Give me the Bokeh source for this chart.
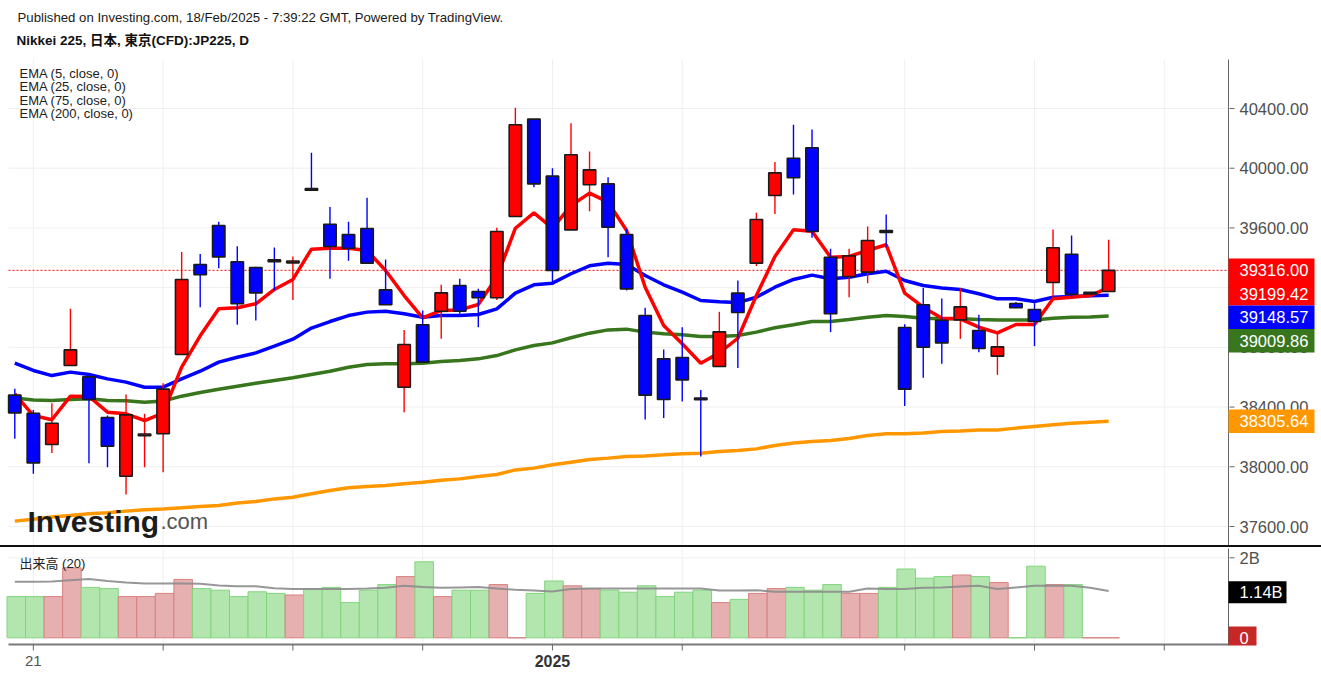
from bokeh.plotting import figure
from bokeh.models import ColumnDataSource, Range1d, Spacer
from bokeh.core.properties import value
from bokeh.layouts import column
from bokeh.embed import file_html
from bokeh.resources import INLINE

# ---------------- data ----------------
opens = [38480, 38359, 38149, 38678, 38602, 38330, 37937, 38208, 38221, 38752,
         39355, 39616, 39373, 39335, 39386, 39366, 39863, 39625, 39556, 39596,
         39185, 38533, 38951, 39042, 39214, 39174, 39132, 39677, 40329, 39947,
         39587, 39889, 39895, 39556, 39013, 38723, 38732, 38461, 38672, 39163,
         39364, 39817, 40067, 40137, 39404, 39275, 39304, 39582, 38933, 39085,
         38982, 38984, 38913, 38741, 39094, 39054, 39234, 39424, 39158, 39174]
highs = [38522, 38381, 38426, 39058, 38610, 38343, 38484, 38355, 38560, 39438,
         39426, 39641, 39478, 39340, 39469, 39409, 40103, 39741, 39641, 39802,
         39388, 38917, 39047, 39219, 39259, 39192, 39601, 40405, 40329, 40000,
         40302, 40112, 39940, 39594, 39065, 38786, 38935, 38515, 39038, 39248,
         39701, 40041, 40291, 40259, 39460, 39460, 39609, 39690, 38955, 39197,
         39127, 39197, 39018, 38891, 39103, 39096, 39589, 39549, 39168, 39520]
lows = [38187, 37953, 38093, 38678, 38024, 37997, 37814, 37997, 37964, 38752,
        39069, 39330, 38951, 38980, 39181, 39118, 39851, 39259, 39380, 39364,
        39085, 38366, 38701, 38857, 39025, 38935, 39118, 39677, 39873, 39237,
        39587, 39712, 39404, 39181, 38317, 38326, 38437, 38069, 38672, 38661,
        39344, 39694, 39824, 39534, 38902, 39136, 39230, 39471, 38408, 38596,
        38690, 38857, 38768, 38616, 39065, 38808, 39136, 39136, 39156, 39174]
closes = [38361, 38026, 38292, 38783, 38451, 38138, 38348, 38220, 38520, 39255,
          39286, 39406, 39092, 39165, 39374, 39378, 39852, 39476, 39464, 39364,
          39085, 38819, 38701, 39165, 39042, 39132, 39576, 40291, 39895, 39315,
          40090, 39989, 39605, 39192, 38480, 38451, 38582, 38449, 38904, 39033,
          39656, 39969, 39936, 39576, 39025, 39413, 39516, 39570, 38520, 38801,
          38830, 39071, 38792, 38803, 39065, 38973, 39467, 39156, 39168, 39316.00]

ema5 = [38489, 38343, 38315, 38473, 38471, 38366, 38355, 38310, 38359, 38667,
        38877, 39058, 39065, 39092, 39188, 39255, 39458, 39464, 39464, 39449,
        39315, 39147, 38998, 39047, 39051, 39087, 39270, 39598, 39701, 39598,
        39750, 39833, 39773, 39583, 39203, 38946, 38824, 38694, 38763, 38861,
        39147, 39409, 39587, 39578, 39404, 39409, 39449, 39487, 39163, 39069,
        38995, 38991, 38935, 38897, 38953, 38953, 39125, 39136, 39147, 39199.42]
ema25 = [38694, 38645, 38611, 38634, 38618, 38589, 38567, 38533, 38533, 38589,
         38640, 38701, 38734, 38763, 38808, 38855, 38929, 38973, 39013, 39036,
         39042, 39025, 39002, 39013, 39013, 39020, 39058, 39163, 39219, 39230,
         39293, 39346, 39364, 39355, 39281, 39219, 39170, 39114, 39105, 39100,
         39136, 39203, 39255, 39284, 39259, 39270, 39293, 39310, 39248, 39214,
         39197, 39188, 39159, 39125, 39125, 39107, 39136, 39141, 39145, 39148.57]
ema75 = [38460, 38448, 38444, 38451, 38455, 38444, 38442, 38433, 38440, 38473,
         38498, 38520, 38540, 38560, 38578, 38596, 38618, 38640, 38667, 38685,
         38690, 38690, 38694, 38705, 38712, 38723, 38745, 38783, 38812, 38830,
         38864, 38895, 38917, 38922, 38902, 38891, 38884, 38873, 38873, 38879,
         38902, 38931, 38951, 38973, 38973, 38987, 39002, 39013, 39007, 38995,
         38991, 38991, 38987, 38984, 38984, 38984, 38995, 39002, 39004, 39009.86]
ema200 = [37636, 37649, 37663, 37674, 37685, 37692, 37703, 37712, 37718, 37725,
          37734, 37741, 37758, 37767, 37785, 37796, 37819, 37841, 37859, 37868,
          37875, 37886, 37897, 37910, 37919, 37935, 37948, 37979, 37991, 38013,
          38031, 38049, 38058, 38069, 38073, 38080, 38087, 38091, 38102, 38109,
          38120, 38142, 38160, 38169, 38176, 38189, 38209, 38221, 38221, 38227,
          38236, 38239, 38247, 38247, 38259, 38270, 38281, 38292, 38299, 38305.64]

volume_b = [1.03, 1.03, 1.03, 1.75, 1.26, 1.23, 1.03, 1.03, 1.11, 1.46,
            1.23, 1.19, 1.03, 1.15, 1.11, 1.07, 1.23, 1.26, 0.88, 1.19,
            1.33, 1.53, 1.90, 1.03, 1.19, 1.19, 1.33, 0.0, 1.11, 1.42,
            1.30, 1.23, 1.19, 1.14, 1.30, 1.03, 1.14, 1.19, 0.88, 0.96,
            1.11, 1.23, 1.26, 1.19, 1.33, 1.11, 1.11, 1.26, 1.72, 1.49,
            1.53, 1.57, 1.53, 1.38, 0.0, 1.79, 1.33, 1.33, 0.0, 0.0]
vol_ma_b = [1.40, 1.40, 1.41, 1.44, 1.47, 1.42, 1.38, 1.36, 1.36, 1.36,
            1.35, 1.31, 1.29, 1.29, 1.24, 1.22, 1.22, 1.22, 1.22, 1.23,
            1.25, 1.30, 1.27, 1.25, 1.26, 1.27, 1.23, 1.20, 1.18, 1.16,
            1.22, 1.23, 1.23, 1.23, 1.23, 1.23, 1.23, 1.23, 1.18, 1.18,
            1.19, 1.15, 1.15, 1.15, 1.15, 1.15, 1.23, 1.22, 1.22, 1.25,
            1.26, 1.28, 1.30, 1.22, 1.26, 1.30, 1.30, 1.30, 1.25, 1.17]

price_ticks = [37600, 38000, 38400, 38800, 39200, 39600, 40000, 40400]
vol_ticks = [0, 2]
vol_tick_labels = ["0", "2B"]
x_ticks = [1, 8, 15, 22, 29, 36, 48, 55, 62]
x_label_ticks = [1]
x_label_texts = ["21"]
year_ticks = [29]
year_texts = ["2025"]
last_price = 39316.00
last_vol_label = "1.14B"
last_vol_value = 1.14
ema_names = ["EMA (5, close, 0)", "EMA (25, close, 0)", "EMA (75, close, 0)", "EMA (200, close, 0)"]
header = "Published on Investing.com, 18/Feb/2025 - 7:39:22 GMT, Powered by TradingView."
title = "Nikkei 225, 日本, 東京(CFD):JP225, D"
vol_title = "出来高 (20)"

# ---------------- layout constants (pixels) ----------------
W, H = 1321, 677
FRAME_L, AXIS_X, TAG_R = 8, 1228, 1314
P_TOP, P_BOT = 59, 545
SEP_H = 2
V_CANVAS_TOP = P_BOT + SEP_H
V_TOP, V_BOT = 548, 644
BAR_PX, X0_PX = 18.54, 14.3
PX_PER_PT = 418 / 2800.0
REF_PRICE, REF_PX = 40400, 108
V_ZERO_PX, V_PX_PER_B = 637.3, 40.0
TAG_H = 23.5

XS = -X0_PX / BAR_PX
YE = REF_PRICE + REF_PX / PX_PER_PT
VE = (V_ZERO_PX - V_CANVAS_TOP) / V_PX_PER_B


def X(px):
    return XS + px / BAR_PX


def Y(py):
    return YE - py / PX_PER_PT


def VY(py):
    return VE - (py - V_CANVAS_TOP) / V_PX_PER_B


RED, BLUE, GREEN, ORANGE = "#ff0000", "#0000ff", "#38761d", "#ff9800"
FONT = "Liberation Sans"
CJK = "Liberation Sans, Noto Sans CJK JP"
AX_COL, LBL_COL, GRID_COL = "#666666", "#505050", "#efefef"

n = len(closes)
idx = list(range(n))
up = [c >= o for o, c in zip(opens, closes)]
src = ColumnDataSource(dict(
    x=idx, high=highs, low=lows,
    top=[max(o, c) for o, c in zip(opens, closes)],
    bottom=[min(o, c) for o, c in zip(opens, closes)],
    color=[RED if u else BLUE for u in up],
))

x_range = Range1d(X(0), X(W))


def txt(fig, xs, ys, texts, size, color, font=FONT, style="normal", align="left"):
    fig.text(x=xs, y=ys, text=texts, text_font=value(font), text_font_size=value(size),
             text_font_style=style, text_color=color, text_baseline="middle",
             text_align=align)


# ---------------- price panel ----------------
p = figure(width=W, height=P_BOT, x_range=x_range, y_range=Range1d(Y(P_BOT), Y(0)),
           output_backend="svg", toolbar_location=None,
           x_axis_location=None, y_axis_location=None,
           min_border_left=0, min_border_right=0, min_border_top=0, min_border_bottom=0)
p.outline_line_color = None
p.grid.visible = False
p.background_fill_color = "white"

# grid lines
p.segment(x0=x_ticks, y0=[Y(P_BOT)] * len(x_ticks), x1=x_ticks, y1=[Y(P_TOP)] * len(x_ticks),
          line_color=GRID_COL, line_width=1)
p.segment(x0=[X(FRAME_L)] * len(price_ticks), y0=price_ticks,
          x1=[X(AXIS_X)] * len(price_ticks), y1=price_ticks, line_color=GRID_COL, line_width=1)

# last price line
p.segment(x0=[X(FRAME_L)], y0=[last_price], x1=[X(AXIS_X)], y1=[last_price],
          line_color=RED, line_dash="2 2", line_width=1)

# moving averages (behind candles)
for series, col in [(ema200, ORANGE), (ema75, GREEN), (ema25, BLUE), (ema5, RED)]:
    p.line(idx, series, line_color=col, line_width=3.5)

# candles
p.segment(x0="x", y0="low", x1="x", y1="high", line_color="color", line_width=1.4, source=src)
p.vbar(x="x", width=0.67, top="top", bottom="bottom", fill_color="color",
       line_color="#1a1a1a", line_width=1.6, source=src)

# price axis (right)
p.segment(x0=[X(AXIS_X)], y0=[Y(P_TOP)], x1=[X(AXIS_X)], y1=[Y(P_BOT)], line_color=AX_COL, line_width=1)
p.segment(x0=[X(AXIS_X + 1)] * len(price_ticks), y0=price_ticks,
          x1=[X(AXIS_X + 6)] * len(price_ticks), y1=price_ticks, line_color=AX_COL, line_width=1)
txt(p, [X(AXIS_X + 11)] * len(price_ticks), price_ticks, [f"{t:.2f}" for t in price_ticks],
    "16.5px", LBL_COL)

# value tags on the price axis (stacked so that they do not overlap)
tags = sorted([(last_price, RED), (ema5[-1], RED), (ema25[-1], BLUE),
               (ema75[-1], GREEN), (ema200[-1], ORANGE)], key=lambda t: -t[0])
tag_py, prev = [], None
for val, col in tags:
    py = REF_PX + (REF_PRICE - val) * PX_PER_PT
    if prev is not None and py < prev + TAG_H:
        py = prev + TAG_H
    prev = py
    tag_py.append(py)
p.quad(left=[X(AXIS_X)] * len(tags), right=[X(TAG_R)] * len(tags),
       top=[Y(py - TAG_H / 2) for py in tag_py], bottom=[Y(py + TAG_H / 2) for py in tag_py],
       fill_color=[c for _, c in tags], line_color=None)
txt(p, [X(AXIS_X + 11)] * len(tags), [Y(py) for py in tag_py],
    [f"{v:.2f}" for v, _ in tags], "16.5px", "white")

# texts
txt(p, [X(17)], [Y(17)], [header], "13.2px", "#1a1a1a")
txt(p, [X(16)], [Y(40)], [title], "13.5px", "#111111", font=CJK, style="bold")
txt(p, [X(19)] * len(ema_names), [Y(72.5 + 13.6 * k) for k in range(len(ema_names))],
    ema_names, "13px", "#222222")

# watermark logo
p.text(x=[X(27)], y=[Y(521)], text=["Investing"], text_font=value(FONT),
       text_font_size=value("30px"), text_font_style="bold", text_color="#1c1c1c",
       text_baseline="alphabetic")
p.text(x=[X(160)], y=[Y(521)], text=[".com"], text_font=value(FONT),
       text_font_size=value("22px"), text_color="#555555", text_baseline="alphabetic")

# ---------------- separator ----------------
sep = Spacer(width=W, height=SEP_H, styles={"background-color": "#111111"})

# ---------------- volume panel ----------------
v = figure(width=W, height=H - V_CANVAS_TOP, x_range=x_range,
           y_range=Range1d(VY(H), VY(V_CANVAS_TOP)),
           output_backend="svg", toolbar_location=None,
           x_axis_location=None, y_axis_location=None,
           min_border_left=0, min_border_right=0, min_border_top=0, min_border_bottom=0)
v.outline_line_color = None
v.grid.visible = False

v.segment(x0=x_ticks, y0=[VY(V_BOT)] * len(x_ticks), x1=x_ticks, y1=[VY(V_TOP)] * len(x_ticks),
          line_color=GRID_COL, line_width=1)
v.segment(x0=[X(FRAME_L)], y0=[vol_ticks[-1]], x1=[X(AXIS_X)], y1=[vol_ticks[-1]],
          line_color=GRID_COL, line_width=1)

vsrc = ColumnDataSource(dict(
    x=[i + 0.08 for i in idx], top=volume_b,
    fill=["#e6b0b0" if u else "#b2e6ae" for u in up],
    line=["#d98080" if u else "#82d47d" for u in up],
))
v.vbar(x="x", width=1.0, top="top", bottom=0, fill_color="fill", line_color="line",
       line_width=1, source=vsrc)
v.line(idx, vol_ma_b, line_color="#8c8c8c", line_width=2, line_alpha=0.9)

# axes lines / ticks
v.segment(x0=[X(AXIS_X)], y0=[VY(V_TOP)], x1=[X(AXIS_X)], y1=[VY(V_BOT + 1)], line_color=AX_COL, line_width=1)
v.segment(x0=[X(FRAME_L)], y0=[VY(V_BOT)], x1=[X(AXIS_X)], y1=[VY(V_BOT)], line_color="#7a7a7a", line_width=2)
v.segment(x0=x_ticks, y0=[VY(V_BOT)] * len(x_ticks), x1=x_ticks, y1=[VY(V_BOT + 6)] * len(x_ticks),
          line_color=AX_COL, line_width=1)
v.segment(x0=[X(AXIS_X + 1)] * len(vol_ticks), y0=vol_ticks, x1=[X(AXIS_X + 6)] * len(vol_ticks),
          y1=vol_ticks, line_color=AX_COL, line_width=1)
txt(v, [X(AXIS_X + 11)] * len(vol_ticks), vol_ticks, vol_tick_labels, "16.5px", LBL_COL)
txt(v, x_label_ticks, [VY(660)] * len(x_label_ticks), x_label_texts, "15px", "#555555", align="center")
txt(v, year_ticks, [VY(660)] * len(year_ticks), year_texts, "16px", "#333333", style="bold", align="center")

# tags on the volume axis
v.quad(left=[X(AXIS_X), X(AXIS_X)], right=[X(1286), X(1256)],
       top=[last_vol_value + 11 / V_PX_PER_B, VY(626)],
       bottom=[last_vol_value - 11 / V_PX_PER_B, VY(V_BOT + 1)],
       fill_color=["#000000", "#c62828"], line_color=None)
txt(v, [X(AXIS_X + 11)] * 2, [last_vol_value, 0], [last_vol_label, "0"], "16.5px", "white")

txt(v, [X(19)], [VY(563)], [vol_title], "13px", "#222222", font=CJK)

layout = column(p, sep, v, spacing=0)
open("out.html", "w").write(file_html(layout, INLINE))
